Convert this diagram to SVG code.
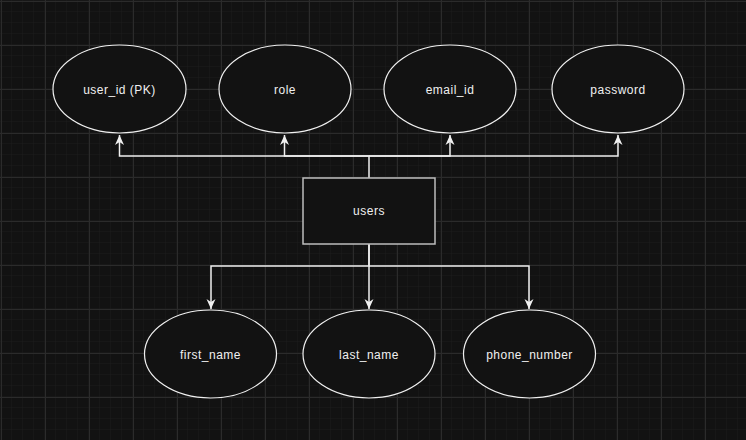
<svg xmlns="http://www.w3.org/2000/svg" width="746" height="440" viewBox="0 0 746 440">
<defs>
<pattern id="minor" x="1" y="1" width="11" height="11" patternUnits="userSpaceOnUse">
<path d="M11 0 V11 M0 11 H11" fill="none" stroke="#1c1c1c" stroke-width="1"/>
</pattern>
<pattern id="major" x="1" y="1" width="44" height="44" patternUnits="userSpaceOnUse">
<path d="M0 0.5 H44 M0.5 0 V44" fill="none" stroke="#2b2b2b" stroke-width="1"/>
</pattern>
<marker id="arr" viewBox="0 0 10 10" refX="10" refY="5" markerWidth="10" markerHeight="10" markerUnits="userSpaceOnUse" orient="auto">
<path d="M0,0.5 L10,5 L0,9.5 L3,5 Z" fill="#f0f0f0"/>
</marker>
<style>
.attr ellipse{fill:#121212;stroke:#f0f0f0;stroke-width:1.2}
.ent rect{fill:#121212;stroke:#bdbdbd;stroke-width:1.5}
text{font-family:"Liberation Sans",Arial,sans-serif;font-size:12px;fill:#f0f0f0;text-anchor:middle;dominant-baseline:central;letter-spacing:0.5px}
.conn path{fill:none;stroke:#f0f0f0;stroke-width:1.5}
</style>
</defs>
<rect width="746" height="440" fill="#121212"/>
<rect width="746" height="440" fill="url(#minor)"/>
<rect width="746" height="440" fill="url(#major)"/>
<g id="connectors" class="conn">
<path d="M369 178 V156 H119.5 V135" marker-end="url(#arr)"/>
<path d="M369 156 H284.5 V135" marker-end="url(#arr)"/>
<path d="M369 156 H450 V135" marker-end="url(#arr)"/>
<path d="M369 156 H618 V135" marker-end="url(#arr)"/>
<path d="M369 244 V266 H211 V309" marker-end="url(#arr)"/>
<path d="M369 244 V309" marker-end="url(#arr)"/>
<path d="M369 266 H529 V309" marker-end="url(#arr)"/>
</g>
<g id="user_id" class="attr"><ellipse cx="119.5" cy="89" rx="66.5" ry="44"/><text x="119.5" y="90">user_id (PK)</text></g>
<g id="role" class="attr"><ellipse cx="285" cy="89" rx="66" ry="44"/><text x="285" y="90">role</text></g>
<g id="email_id" class="attr"><ellipse cx="450" cy="89" rx="66" ry="44"/><text x="450" y="90">email_id</text></g>
<g id="password" class="attr"><ellipse cx="618" cy="89" rx="66" ry="44"/><text x="618" y="90">password</text></g>
<g id="users" class="ent"><rect x="303" y="178" width="132" height="66"/><text x="369" y="211">users</text></g>
<g id="first_name" class="attr"><ellipse cx="210.5" cy="354" rx="66" ry="44"/><text x="210.5" y="355">first_name</text></g>
<g id="last_name" class="attr"><ellipse cx="369" cy="354" rx="66" ry="44"/><text x="369" y="355">last_name</text></g>
<g id="phone_number" class="attr"><ellipse cx="529.5" cy="354" rx="66" ry="44"/><text x="529.5" y="355">phone_number</text></g>
</svg>
